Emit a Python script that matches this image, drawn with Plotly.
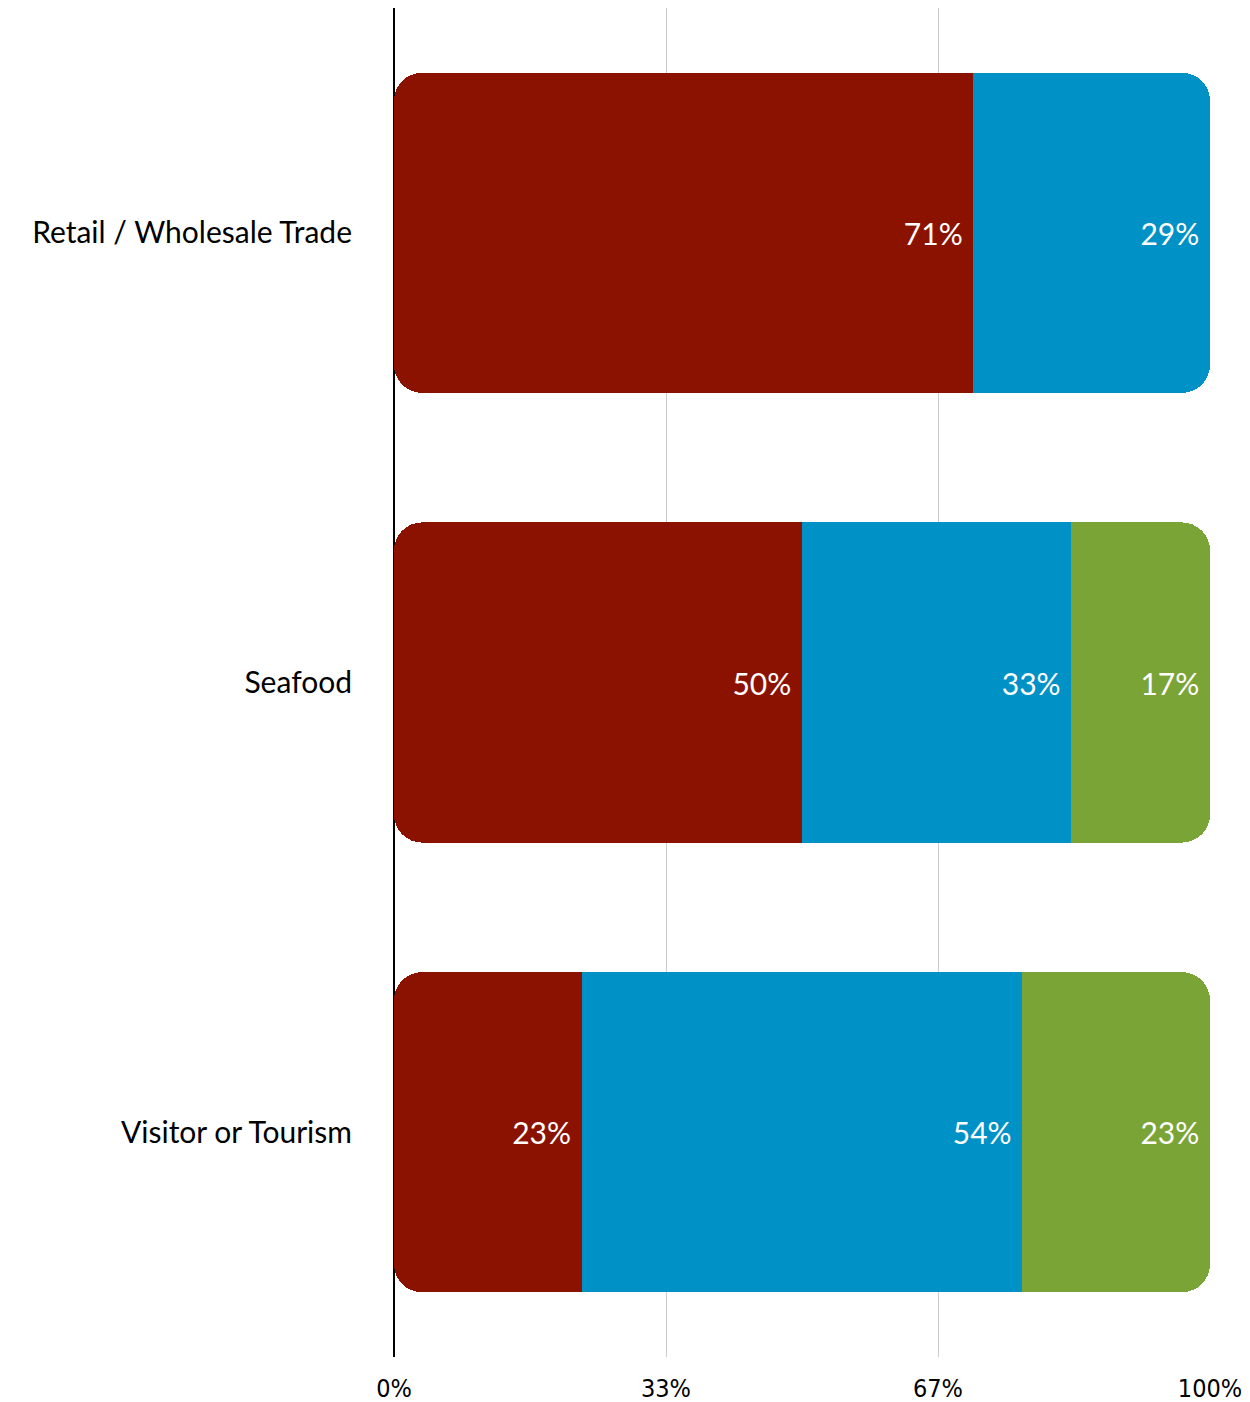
import plotly.graph_objects as go

categories = ["Retail / Wholesale Trade", "Seafood", "Visitor or Tourism"]
red_vals = [71, 50, 23]
blue_vals = [29, 33, 54]
green_vals = [0, 17, 23]
tick_vals = [0, 100 / 3, 200 / 3, 100]
tick_text = ["0%", "33%", "67%", "100%"]

RED = "#8C1200"
BLUE = "#0091C6"
GREEN = "#7BA436"
CLEAR = "rgba(0,0,0,0)"
FONT = "Lato"
LABEL_FONT = dict(color="white", size=30, family=FONT)
NO_LINE = dict(width=0)


def labels(vals):
    return [f"{v}%\u00a0" if v else "" for v in vals]


fig = go.Figure()

# stack on the normal axis: rounds the right end of each bar
fig.add_trace(go.Bar(y=categories, x=red_vals, orientation="h",
                     marker=dict(color=CLEAR, line=NO_LINE), hoverinfo="skip"))
fig.add_trace(go.Bar(y=categories, x=blue_vals, orientation="h",
                     marker=dict(color=BLUE, line=NO_LINE), name="blue"))
fig.add_trace(go.Bar(y=categories, x=green_vals, orientation="h",
                     marker=dict(color=GREEN, line=NO_LINE), name="green"))

# stack on a reversed overlaid axis: rounds the left end (red) and carries the labels
fig.add_trace(go.Bar(y=categories, x=green_vals, orientation="h", xaxis="x2",
                     marker=dict(color=CLEAR, line=NO_LINE), hoverinfo="skip",
                     text=labels(green_vals), textposition="inside",
                     insidetextanchor="start", textfont=LABEL_FONT))
fig.add_trace(go.Bar(y=categories, x=blue_vals, orientation="h", xaxis="x2",
                     marker=dict(color=CLEAR, line=NO_LINE), hoverinfo="skip",
                     text=labels(blue_vals), textposition="inside",
                     insidetextanchor="start", textfont=LABEL_FONT))
fig.add_trace(go.Bar(y=categories, x=red_vals, orientation="h", xaxis="x2",
                     marker=dict(color=RED, line=NO_LINE), name="red",
                     text=labels(red_vals), textposition="inside",
                     insidetextanchor="start", textfont=LABEL_FONT))

fig.update_layout(
    barmode="stack",
    barcornerradius=28,
    bargap=0.288,
    width=1250, height=1402,
    margin=dict(l=386, r=48, t=0, b=53),
    plot_bgcolor="white", paper_bgcolor="white",
    showlegend=False,
    xaxis=dict(
        range=[0, 100], tickvals=tick_vals, ticktext=tick_text,
        showgrid=True, gridcolor="#CCCCCC", gridwidth=1,
        zeroline=True, zerolinecolor="black", zerolinewidth=2,
        tickfont=dict(family="DejaVu Sans Condensed", size=25, color="black"),
        ticks="outside", ticklen=9, tickcolor="white",
    ),
    xaxis2=dict(
        range=[100, 0], overlaying="x", showgrid=False, zeroline=False,
        showticklabels=False, ticks="",
    ),
    yaxis=dict(
        autorange="reversed", showgrid=False,
        tickfont=dict(family=FONT, size=30, color="black"),
        ticks="outside", ticklen=35, tickcolor="white",
    ),
)

fig.write_html("out.html")
